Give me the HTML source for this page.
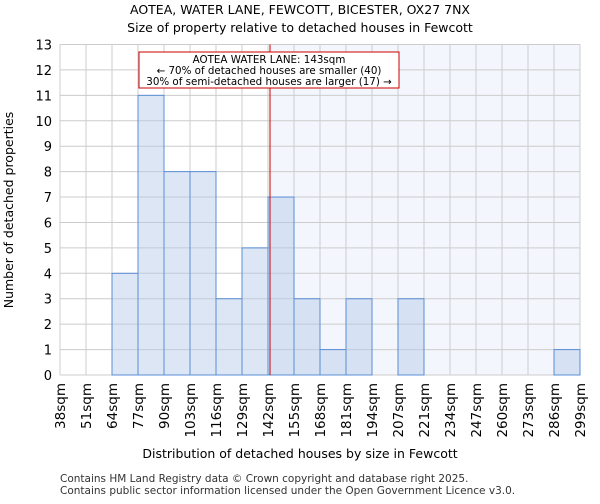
<!DOCTYPE html>
<html><head><meta charset="utf-8"><style>
body{margin:0;background:#fff;font-family:"DejaVu Sans","Liberation Sans",sans-serif}
svg text{font-family:"DejaVu Sans","Liberation Sans",sans-serif}
</style></head><body>
<svg id="c" width="600" height="500">
<text x="300" y="14" font-size="12.5" text-anchor="middle">AOTEA, WATER LANE, FEWCOTT, BICESTER, OX27 7NX</text>
<text x="300" y="32" font-size="12.5" text-anchor="middle">Size of property relative to detached houses in Fewcott</text>
<g id="plot"></g>
<text x="300" y="458" font-size="12.5" text-anchor="middle">Distribution of detached houses by size in Fewcott</text>
<text transform="translate(13,210) rotate(-90)" font-size="12.5" text-anchor="middle">Number of detached properties</text>
<text x="60" y="482" font-size="10.5" fill="#333">Contains HM Land Registry data © Crown copyright and database right 2025.</text>
<text x="60" y="494" font-size="10.5" fill="#333">Contains public sector information licensed under the Open Government Licence v3.0.</text>
</svg>
<script>
const binLabels=["38sqm","51sqm","64sqm","77sqm","90sqm","103sqm","116sqm","129sqm","142sqm","155sqm","168sqm","181sqm","194sqm","207sqm","221sqm","234sqm","247sqm","260sqm","273sqm","286sqm","299sqm"];
const counts=[0,0,4,11,8,8,3,5,7,3,1,3,0,3,0,0,0,0,0,1];
const yTicks=[0,1,2,3,4,5,6,7,8,9,10,11,12,13];
const propertySize=143;
const binEdges=[38,51,64,77,90,103,116,129,142,155,168,181,194,207,221,234,247,260,273,286,299];
const X0=60,X1=580,Y0=375,Y1=44.5,YMAX=13;
const NS="http://www.w3.org/2000/svg";
const g=document.getElementById('plot');
const nb=counts.length;
const xi=i=>X0+(X1-X0)*i/nb;
const y=v=>Y0-(Y0-Y1)*v/YMAX;
function xv(v){for(let i=0;i<binEdges.length-1;i++){if(v<=binEdges[i+1])return xi(i)+(v-binEdges[i])/(binEdges[i+1]-binEdges[i])*(xi(i+1)-xi(i));}return X1;}
function mk(t,a){const e=document.createElementNS(NS,t);for(const k in a)e.setAttribute(k,a[k]);g.appendChild(e);return e;}
const px=xv(propertySize);
let e=mk('rect',{x:px,y:Y1,width:X1-px,height:Y0-Y1,fill:'#f3f6fc'});


yTicks.forEach(t=>{let l=mk('line',{x1:X0,x2:X1,y1:y(t),y2:y(t),stroke:'#ccc'});


let tx=mk('text',{x:X0-8,y:y(t)+5,'font-size':13,'text-anchor':'end'});tx.textContent=t;

});
binLabels.forEach((b,i)=>{let l=mk('line',{x1:xi(i),x2:xi(i),y1:Y1,y2:Y0,stroke:'#ccc'});


let tx=mk('text',{transform:`translate(${xi(i)+5},${Y0+8}) rotate(-90)`,'font-size':13.5,'text-anchor':'end'});tx.textContent=b;

});
counts.forEach((c,i)=>{if(!c)return;let r=mk('rect',{x:xi(i),y:y(c),width:xi(i+1)-xi(i),height:Y0-y(c),fill:'rgba(180,200,232,0.45)',stroke:'#5b8fd6','stroke-width':1});

});
e=mk('line',{x1:px,x2:px,y1:Y1,y2:Y0,stroke:'#cc0000','stroke-width':1});


e=mk('rect',{x:139,y:52,width:260,height:36,fill:'#fff',stroke:'#cc0000'});


["AOTEA WATER LANE: 143sqm","← 70% of detached houses are smaller (40)","30% of semi-detached houses are larger (17) →"].forEach((s,k)=>{let t=mk('text',{x:269,y:63+k*11,'font-size':10.3,'text-anchor':'middle'});t.textContent=s;

});
</script>
</body></html>
